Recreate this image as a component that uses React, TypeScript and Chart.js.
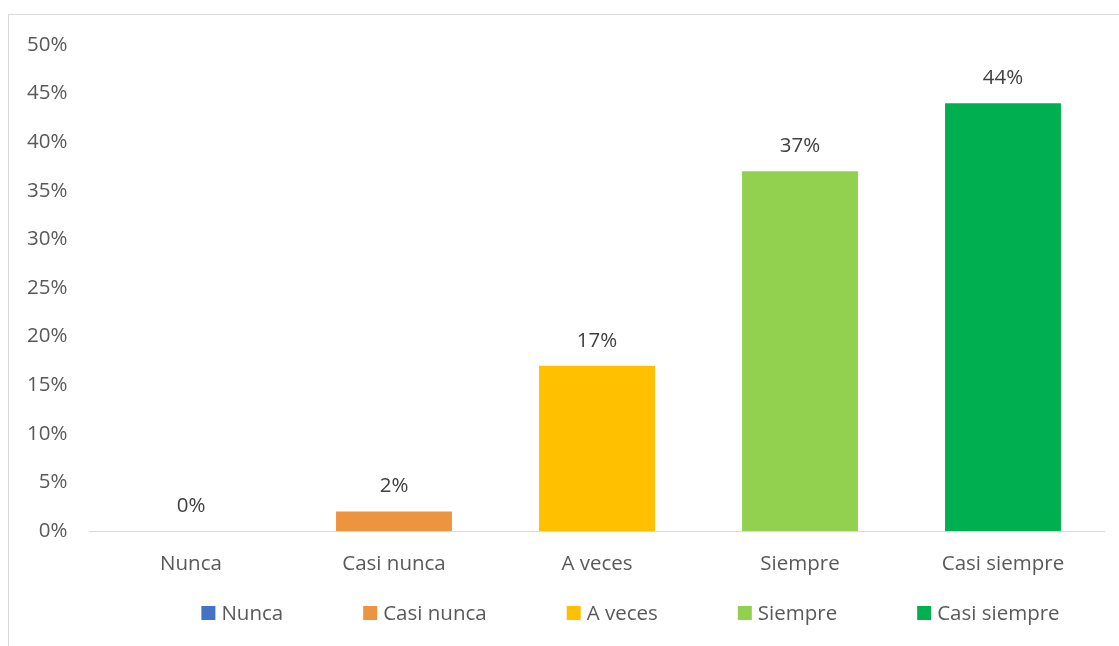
import React, { useEffect, useRef } from 'react';
import { Chart, registerables } from 'chart.js';

Chart.register(...registerables);

const categories = ['Nunca', 'Casi nunca', 'A veces', 'Siempre', 'Casi siempre'];
const values = [0, 2, 17, 37, 44];
const colors = ['#4472C4', '#ED943F', '#FFC000', '#92D050', '#00B050'];
const yMax = 50;
const yStep = 5;

const FONT = '"Open Sans", sans-serif';
const FONT_SIZE = 20.5;

const dataLabelPlugin = {
  id: 'dataLabels',
  afterDatasetsDraw(chart: any) {
    const ctx = chart.ctx;
    const meta = chart.getDatasetMeta(0);
    ctx.save();
    ctx.font = `${FONT_SIZE}px ${FONT}`;
    ctx.fillStyle = '#404040';
    ctx.textAlign = 'center';
    ctx.textBaseline = 'middle';
    meta.data.forEach((bar: any, i: number) => {
      ctx.fillText(values[i] + '%', bar.x, bar.y - 25);
    });
    ctx.restore();
  },
};

const legendPlugin = {
  id: 'customLegend',
  afterDraw(chart: any) {
    const ctx = chart.ctx;
    ctx.save();
    ctx.font = `${FONT_SIZE}px ${FONT}`;
    ctx.textBaseline = 'middle';
    ctx.textAlign = 'left';
    const box = 14;
    const gapBox = 6;
    const gapItem = 80;
    const widths = categories.map((c) => ctx.measureText(c).width);
    const total = widths.reduce((a, w) => a + box + gapBox + w, 0) + gapItem * (categories.length - 1);
    const centerX = 621.5;
    let x = centerX - total / 2;
    const y = 598;
    categories.forEach((c, i) => {
      ctx.fillStyle = colors[i];
      ctx.fillRect(x, y - box / 2, box, box);
      ctx.fillStyle = '#595959';
      ctx.fillText(c, x + box + gapBox, y + 1);
      x += box + gapBox + widths[i] + gapItem;
    });
    ctx.restore();
  },
};

export default function App() {
  const ref = useRef<HTMLCanvasElement>(null);

  useEffect(() => {
    if (!ref.current) return;
    const chart = new Chart(ref.current, {
      type: 'bar',
      data: {
        labels: categories,
        datasets: [
          {
            data: values,
            backgroundColor: colors,
            barPercentage: 0.571,
            categoryPercentage: 1,
          },
        ],
      },
      options: {
        animation: false,
        responsive: false,
        maintainAspectRatio: false,
        layout: { padding: { top: 30, right: 6.5, bottom: 60, left: 0 } },
        plugins: {
          legend: { display: false },
          tooltip: { enabled: false },
        },
        scales: {
          x: {
            grid: { display: false, drawTicks: false },
            border: { display: true, color: '#D9D9D9', width: 1 },
            ticks: {
              color: '#595959',
              font: { family: FONT, size: FONT_SIZE },
              padding: 21,
            },
            afterFit: (scale: any) => {
              scale.height = 44;
            },
          },
          y: {
            min: 0,
            max: yMax,
            grid: { display: false, drawTicks: false },
            border: { display: false },
            ticks: {
              stepSize: yStep,
              color: '#595959',
              font: { family: FONT, size: FONT_SIZE },
              padding: 22,
              callback: (v: any) => v + '%',
            },
            afterFit: (scale: any) => {
              scale.width = 80.5;
              scale.paddingTop = 0;
              scale.paddingBottom = 0;
            },
          },
        },
      },
      plugins: [dataLabelPlugin, legendPlugin],
    });
    return () => chart.destroy();
  }, []);

  return (
    <div
      style={{
        position: 'fixed',
        left: 8,
        top: 14,
        width: 1130,
        height: 650,
        borderTop: '1px solid #D9D9D9',
        borderLeft: '1px solid #D9D9D9',
        overflow: 'hidden',
      }}
    >
      <canvas ref={ref} width={1102} height={620} style={{ display: 'block' }} />
    </div>
  );
}
